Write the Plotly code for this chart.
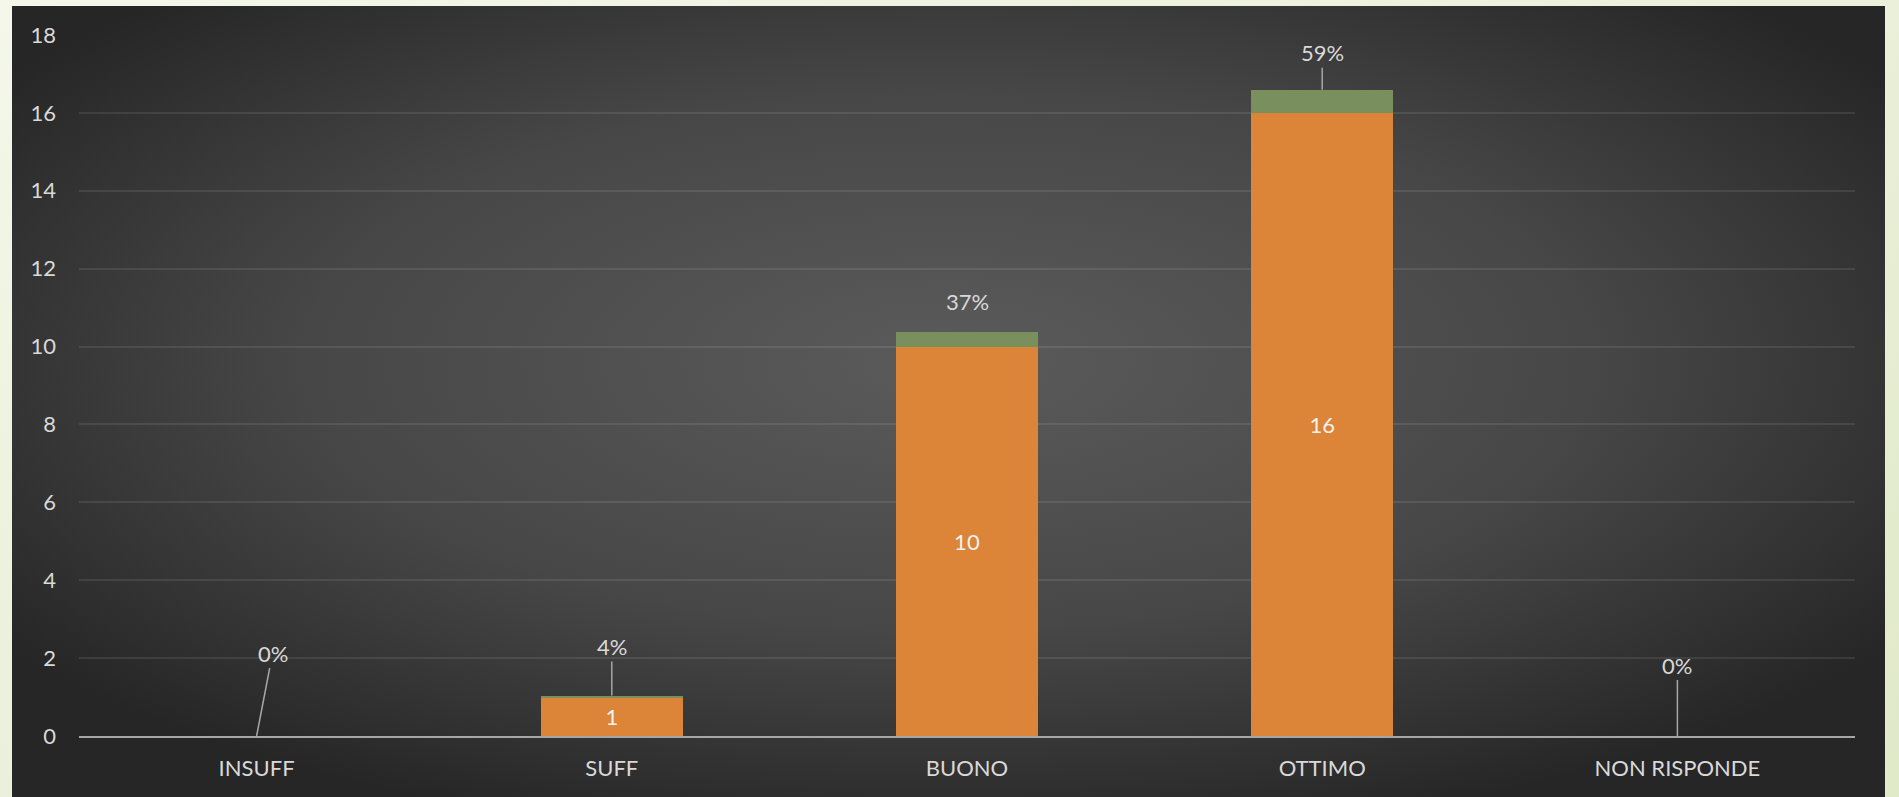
import base64
import plotly.graph_objects as go

# ---- data ----
categories = ["INSUFF", "SUFF", "BUONO", "OTTIMO", "NON RISPONDE"]
counts = [0, 1, 10, 16, 0]
shares = [0.0, 0.037, 0.37, 0.593, 0.0]
y_ticks = [0, 2, 4, 6, 8, 10, 12, 14, 16, 18]

# ---- styles ----
FONT = "Lato, 'Open Sans', sans-serif"
TXT = "#d9d9d9"
ORANGE = "#dc8437"
GREEN = "#7a8f5e"
W, H = 1899, 797

# percent-label placement (pixel offsets from bar top) and leader line flags
label_ax = [16, 0, 0, 0, 0]
label_ay = [-83, -49, -31, -37, -71]
label_line = [True, True, False, True, True]

svg = f"""<svg xmlns='http://www.w3.org/2000/svg' width='{W}' height='{H}' viewBox='0 0 {W} {H}' preserveAspectRatio='none'>
<defs>
<linearGradient id='g1' x1='0' y1='0' x2='1' y2='1'>
<stop offset='0' stop-color='#f4f7ea'/><stop offset='1' stop-color='#e0e9c8'/>
</linearGradient>
<radialGradient id='g2' cx='0.5' cy='0.45' r='0.62'>
<stop offset='0' stop-color='#5b5b5b'/><stop offset='0.55' stop-color='#474747'/><stop offset='1' stop-color='#262626'/>
</radialGradient>
</defs>
<rect x='0' y='0' width='{W}' height='{H}' fill='url(#g1)'/>
<rect x='12' y='6' width='1873' height='791' fill='url(#g2)'/>
</svg>"""
bg_uri = "data:image/svg+xml;base64," + base64.b64encode(svg.encode()).decode()

ML, MR, MT, MB = 79, 44, 35, 61
PW, PH = W - ML - MR, H - MT - MB

fig = go.Figure()
fig.add_trace(go.Bar(
    x=categories, y=counts, marker=dict(color=ORANGE, line=dict(width=0)),
    text=[str(c) if c else "" for c in counts], textposition="inside",
    insidetextanchor="middle", textangle=0,
    textfont=dict(family=FONT, size=22, color="#f2f2f2"),
    hoverinfo="skip", name="N",
))
fig.add_trace(go.Bar(
    x=categories, y=shares, marker=dict(color=GREEN, line=dict(width=0)),
    hoverinfo="skip", name="%",
))

for i, cat in enumerate(categories):
    fig.add_annotation(
        x=cat, y=counts[i] + shares[i], xref="x", yref="y",
        text=f"{shares[i]:.0%}", showarrow=label_line[i],
        arrowhead=0, arrowwidth=1.5, arrowcolor="#a6a6a6",
        ax=label_ax[i], ay=label_ay[i], axref="pixel", ayref="pixel",
        yshift=0 if label_line[i] else -label_ay[i],
        font=dict(family=FONT, size=22, color=TXT),
    )

fig.add_layout_image(
    source=bg_uri, xref="paper", yref="paper",
    x=-ML / PW, y=1 + MT / PH, sizex=W / PW, sizey=H / PH,
    xanchor="left", yanchor="top", sizing="stretch", layer="below",
)

fig.update_layout(
    width=W, height=H, barmode="stack", bargap=0.6, showlegend=False,
    margin=dict(l=ML, r=MR, t=MT, b=MB, pad=0),
    paper_bgcolor="#eef2dd", plot_bgcolor="rgba(0,0,0,0)",
    font=dict(family=FONT, size=22, color=TXT),
)
fig.update_xaxes(
    showgrid=False, showline=True, linecolor="#a6a6a6", linewidth=2,
    ticks="", ticklabelstandoff=12, tickfont=dict(family=FONT, size=22, color=TXT),
    zeroline=False,
)
fig.update_yaxes(
    range=[0, 18], tickvals=y_ticks, showgrid=True,
    gridcolor="rgba(255,255,255,0.09)", gridwidth=2, zeroline=False,
    showline=False, ticks="", ticklabelstandoff=22,
    tickfont=dict(family=FONT, size=22, color=TXT),
)

fig.write_html(
    "out.html",
    config={"displayModeBar": False},
    post_script="document.body.style.margin='0';document.body.style.background='#eef2dd';",
)
